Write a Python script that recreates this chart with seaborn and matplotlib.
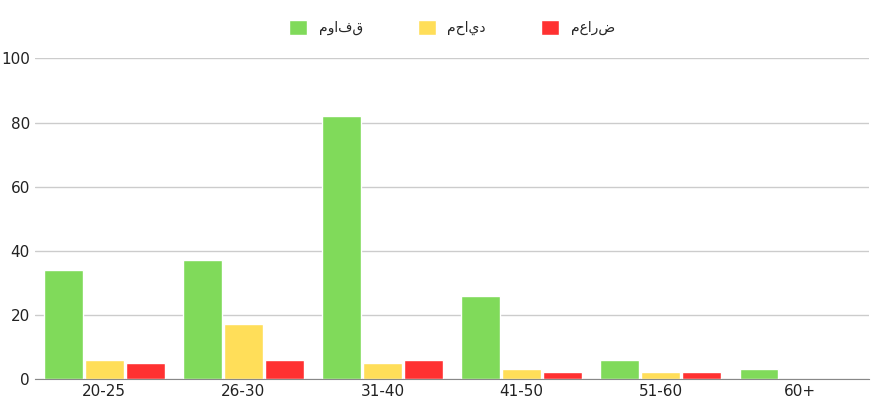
import matplotlib
matplotlib.use("Agg")
import matplotlib.pyplot as plt
import seaborn as sns
import pandas as pd

categories = ["20-25", "26-30", "31-40", "41-50", "51-60", "60+"]
series = ["موافق", "محايد", "معارض"]
agree = [34, 37, 82, 26, 6, 3]
neutral = [6, 17, 5, 3, 2, 0]
oppose = [5, 6, 6, 2, 2, 0]
colors = ["#80da5a", "#ffde59", "#ff3131"]

rows = []
for s, vals in zip(series, [agree, neutral, oppose]):
    for c, v in zip(categories, vals):
        rows.append({"cat": c, "series": s, "value": v})
df = pd.DataFrame(rows)

sns.set_style("white")
plt.rcParams['font.family'] = ['DejaVu Sans']
fig, ax = plt.subplots(figsize=(8.71, 4.03), dpi=100)
sns.barplot(data=df, x="cat", y="value", hue="series", palette=colors, ax=ax,
            width=0.88, gap=0.05, saturation=1)
ax.set_ylim(0, 100)
ax.set_yticks([0, 20, 40, 60, 80, 100])
ax.yaxis.grid(True, color="#cccccc", linewidth=1)
ax.set_axisbelow(True)
ax.set_xlabel("")
ax.set_ylabel("")
for sp in ["top", "right", "left"]:
    ax.spines[sp].set_visible(False)
ax.spines["bottom"].set_color("#888888")
ax.tick_params(axis="both", length=0, labelsize=11, colors="#222222")
ax.set_xlim(-0.5, 5.5)
ax.legend(loc="upper center", bbox_to_anchor=(0.5, 1.16), ncol=3, frameon=False,
          handlelength=1.3, handleheight=1.3, columnspacing=4, fontsize=10)
fig.subplots_adjust(left=0.04, right=0.998, top=0.855, bottom=0.06)
fig.savefig("out.png")
